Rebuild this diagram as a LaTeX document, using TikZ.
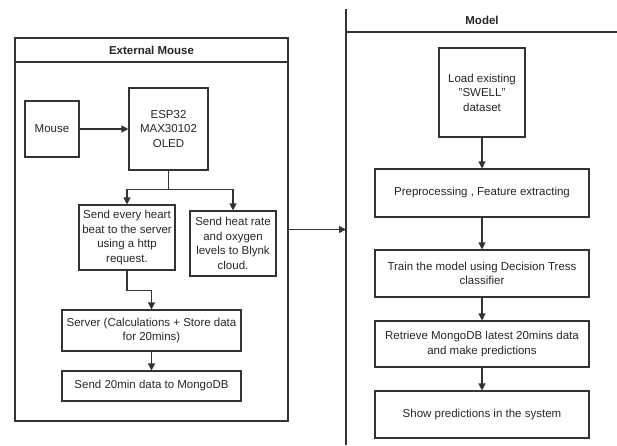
\documentclass[tikz,border=0pt]{standalone}
\usepackage{fontspec}
\setmainfont{Liberation Sans}
\usetikzlibrary{arrows.meta}
\begin{document}
\begin{tikzpicture}[x=1pt,y=1pt,
  every node/.style={font=\fontsize{11.5}{14.5}\selectfont, text=black!85},
  box/.style={draw=black!80, line width=1.1pt, align=center, inner sep=2pt},
  ln/.style={draw=black!80, line width=1.1pt},
  arr/.style={ln, -{Triangle[length=7pt,width=7pt]}},
  title/.style={font=\fontsize{11.5}{14}\selectfont\bfseries}]
\useasboundingbox (0,0) rectangle (617,-445);
% External Mouse container
\node[box, minimum width=273pt, minimum height=383pt] (ext) at (151.5,-229.5) {};
\draw[ln] (15,-62) -- (288,-62);
\node[title] (exttitle) at (151.5,-50) {External Mouse};
% Model lane
\draw[ln] (346,-9) -- (346,-445);
\draw[ln] (346,-32) -- (617,-32);
\node[title] (modeltitle) at (482,-20) {Model};
\coordinate (lane) at (346,-229.5);
% left nodes
\node[box, minimum width=54pt, minimum height=56pt] (mouse) at (52,-129) {Mouse};
\node[box, minimum width=79pt, minimum height=82pt] (esp) at (168.5,-129) {ESP32\\MAX30102\\OLED};
\node[box, minimum width=96pt, minimum height=65pt] (send1) at (127,-237.5) {Send every heart\\beat to the server\\using a http\\request.};
\node[box, minimum width=86pt, minimum height=65pt] (send2) at (233,-243.5) {Send heat rate\\and oxygen\\levels to Blynk\\cloud.};
\node[box, minimum width=179pt, minimum height=41pt] (server) at (151.5,-330.5) {Server (Calculations + Store data\\for 20mins)};
\node[box, minimum width=179pt, minimum height=30pt] (mongo) at (151.5,-386) {Send 20min data to MongoDB};
% right nodes
\node[box, minimum width=86pt, minimum height=89pt] (load) at (482,-92.5) {Load existing\\\symbol{34}SWELL\symbol{34}\\dataset};
\node[box, minimum width=214pt, minimum height=48pt] (prep) at (482,-193) {Preprocessing , Feature extracting};
\node[box, minimum width=214pt, minimum height=47pt] (train) at (482,-273.5) {Train the model using Decision Tress\\classifier};
\node[box, minimum width=214pt, minimum height=46pt] (retr) at (482,-344) {Retrieve MongoDB latest 20mins data\\and make predictions};
\node[box, minimum width=214pt, minimum height=47pt] (show) at (482,-414.5) {Show predictions in the system};
% connectors
\draw[arr] (mouse) -- (esp);
\draw[arr] (esp.south) -- ++(0,-19) -| (send1.north);
\draw[arr] (esp.south) -- ++(0,-19) -| (send2.north);
\draw[arr] (send1.south) -- ++(0,-20) -| (server.north);
\draw[arr] (server) -- (mongo);
\draw[arr] (ext.east) -- (lane);
\draw[arr] (load) -- (prep);
\draw[arr] (prep) -- (train);
\draw[arr] (train) -- (retr);
\draw[arr] (retr) -- (show);
\end{tikzpicture}
\end{document}
